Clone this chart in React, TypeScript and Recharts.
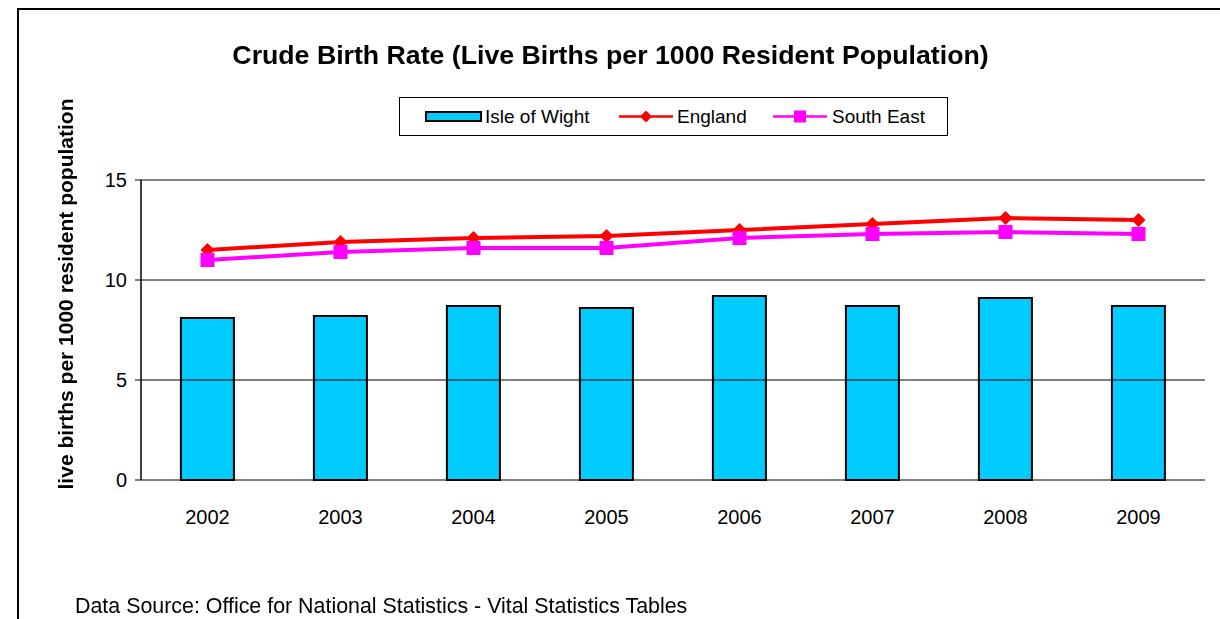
import React from 'react';
import { ComposedChart, Bar, Line, XAxis, YAxis, ReferenceLine, Legend } from 'recharts';

const years = ['2002', '2003', '2004', '2005', '2006', '2007', '2008', '2009'];
const isleOfWight = [8.1, 8.2, 8.7, 8.6, 9.2, 8.7, 9.1, 8.7];
const england = [11.5, 11.9, 12.1, 12.2, 12.5, 12.8, 13.1, 13.0];
const southEast = [11.0, 11.4, 11.6, 11.6, 12.1, 12.3, 12.4, 12.3];
const yTicks = [0, 5, 10, 15];
const boundaryTicks = [0, 1, 2, 3, 4, 5, 6, 7, 8];

const data = years.map((year, i) => ({
  year,
  iow: isleOfWight[i],
  eng: england[i],
  se: southEast[i],
}));

const FONT = '"Liberation Sans", Arial, sans-serif';
const BAR = '#00CCFF';
const RED = '#FF0000';
const MAGENTA = '#FF00FF';

const Diamond = (props: any) => {
  const { cx, cy } = props;
  if (cx == null || cy == null) return null;
  return (
    <polygon
      points={`${cx},${cy - 7} ${cx + 7},${cy} ${cx},${cy + 7} ${cx - 7},${cy}`}
      fill={RED}
    />
  );
};

const Square = (props: any) => {
  const { cx, cy } = props;
  if (cx == null || cy == null) return null;
  return <rect x={cx - 7} y={cy - 7} width={14} height={14} fill={MAGENTA} />;
};

const LegendBox = () => (
  <svg width={549} height={39} style={{ display: 'block', fontFamily: FONT }}>
    <rect x={0.5} y={0.5} width={548} height={38} fill="#fff" stroke="#000" strokeWidth={1} />
    <rect x={27} y={15} width={55} height={9} fill={BAR} stroke="#000" strokeWidth={2} />
    <text x={86} y={26} fontSize={19} fill="#000">Isle of Wight</text>
    <line x1={220} y1={19.5} x2={274} y2={19.5} stroke={RED} strokeWidth={2.5} />
    <polygon points="247,13.5 253,19.5 247,25.5 241,19.5" fill={RED} />
    <text x={278} y={26} fontSize={19} fill="#000">England</text>
    <line x1={374} y1={19.5} x2={428} y2={19.5} stroke={MAGENTA} strokeWidth={2.5} />
    <rect x={395} y={13.5} width={12} height={12} fill={MAGENTA} />
    <text x={433} y={26} fontSize={19} fill="#000">South East</text>
  </svg>
);

export default function App() {
  return (
    <div style={{ position: 'relative', width: 1204, height: 603, fontFamily: FONT }}>
      <style>{'html,body{overflow:hidden}'}</style>
      <div style={{ position: 'absolute', left: 0, top: 0 }}>
        <ComposedChart
          width={1204}
          height={603}
          data={data}
          margin={{ top: 172, right: 7, bottom: 101, left: 73 }}
          barCategoryGap="30%"
          style={{ fontFamily: FONT }}
        >
          <XAxis
            xAxisId="grid"
            type="number"
            domain={[0, 8]}
            ticks={boundaryTicks}
            tick={false}
            tickLine={{ stroke: '#000', strokeWidth: 1 }}
            tickSize={6}
            axisLine={false}
            height={0}
            allowDataOverflow
          />
          <XAxis
            dataKey="year"
            tickLine={false}
            axisLine={{ stroke: '#000', strokeWidth: 1 }}
            tick={{ fill: '#000', fontSize: 20, fontFamily: FONT }}
            tickMargin={24}
            height={30}
            interval={0}
          />
          <YAxis
            domain={[0, 15]}
            ticks={yTicks}
            width={60}
            axisLine={{ stroke: '#000', strokeWidth: 1.5 }}
            tickLine={{ stroke: '#000', strokeWidth: 1 }}
            tickSize={6}
            tickMargin={8}
            tick={{ fill: '#000', fontSize: 20, fontFamily: FONT }}
            interval={0}
          />
          <YAxis
            yAxisId="border"
            orientation="right"
            domain={[0, 15]}
            width={0}
            tick={false}
            tickLine={false}
            axisLine={{ stroke: '#808080', strokeWidth: 2 }}
          />
          <ReferenceLine y={5} stroke="#000" strokeWidth={1} />
          <ReferenceLine y={10} stroke="#000" strokeWidth={1} />
          <ReferenceLine y={15} stroke="#808080" strokeWidth={2} />
          <Legend
            layout="horizontal"
            verticalAlign="middle"
            align="center"
            content={() => <LegendBox />}
            wrapperStyle={{ position: 'absolute', left: 391, top: 89, width: 549, height: 39 }}
          />
          <Bar dataKey="iow" name="Isle of Wight" fill={BAR} stroke="#000" strokeWidth={2} isAnimationActive={false} />
          <Line
            dataKey="eng"
            name="England"
            stroke={RED}
            strokeWidth={4}
            dot={<Diamond />}
            activeDot={false}
            isAnimationActive={false}
          />
          <Line
            dataKey="se"
            name="South East"
            stroke={MAGENTA}
            strokeWidth={4}
            dot={<Square />}
            activeDot={false}
            isAnimationActive={false}
          />
        </ComposedChart>
      </div>
      <svg
        width={1220}
        height={619}
        style={{ position: 'fixed', left: 0, top: 0, pointerEvents: 'none', fontFamily: FONT }}
      >
        <line x1={17} y1={9} x2={1220} y2={9} stroke="#000" strokeWidth={2} />
        <line x1={18} y1={8} x2={18} y2={619} stroke="#000" strokeWidth={2} />
        <text x={610.5} y={64} textAnchor="middle" fontSize={26.7} fontWeight="bold" fill="#000">
          Crude Birth Rate (Live Births per 1000 Resident Population)
        </text>
        <text
          x={0}
          y={0}
          transform="translate(73,294) rotate(-90)"
          textAnchor="middle"
          fontSize={21}
          fontWeight="bold"
          fill="#000"
        >
          live births per 1000 resident population
        </text>
        <text x={75} y={613} fontSize={21.4} fill="#000">
          Data Source: Office for National Statistics - Vital Statistics Tables
        </text>
      </svg>
    </div>
  );
}
